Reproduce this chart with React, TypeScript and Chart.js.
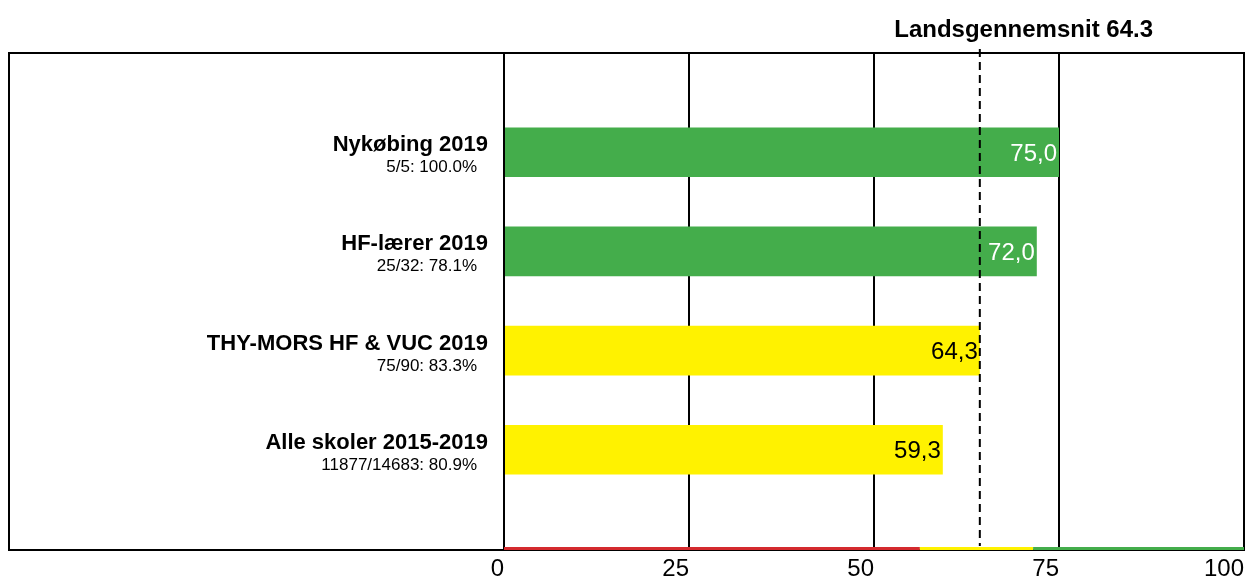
import React, { useEffect, useRef } from "react";
import { Chart, registerables } from "chart.js";

Chart.register(...registerables);

const categories = ["Nykøbing 2019", "HF-lærer 2019", "THY-MORS HF & VUC 2019", "Alle skoler 2015-2019"];
const subLabels = ["5/5: 100.0%", "25/32: 78.1%", "75/90: 83.3%", "11877/14683: 80.9%"];
const values = [75.0, 72.0, 64.3, 59.3];
const xTicks = [0, 25, 50, 75, 100];
const average = 64.3;
const averageLabel = "Landsgennemsnit 64.3";
// colour bands
const bandStarts = [0, 56.2, 71.5];
const bandEnds = [56.2, 71.5, 100];
const bandColors = ["#d42a2e", "#fff200", "#44ad4b"];
const textColors = ["#000000", "#000000", "#ffffff"];

const FONT = "'Liberation Sans', Arial, Helvetica, sans-serif";

function bandIndex(v: number) {
  for (let i = bandStarts.length - 1; i >= 0; i--) if (v >= bandStarts[i]) return i;
  return 0;
}

const decorPlugin = {
  id: "decor",
  afterDatasetsDraw(chart: any) {
    const { ctx, chartArea } = chart;
    const xs = chart.scales.x;
    const ys = chart.scales.y;
    ctx.save();
    // outer box
    ctx.strokeStyle = "#000";
    ctx.lineWidth = 2;
    ctx.strokeRect(9, chartArea.top, chartArea.right - 9, chartArea.bottom - chartArea.top + 1);
    // colour band along bottom
    for (let i = 0; i < bandStarts.length; i++) {
      const x0 = xs.getPixelForValue(bandStarts[i]);
      const x1 = xs.getPixelForValue(bandEnds[i]);
      ctx.fillStyle = bandColors[i];
      ctx.fillRect(x0, chartArea.bottom - 2, x1 - x0, 3);
    }
    // average dashed line
    const ax = xs.getPixelForValue(average);
    ctx.strokeStyle = "#000";
    ctx.setLineDash([8, 5]);
    ctx.lineWidth = 2;
    ctx.beginPath();
    ctx.moveTo(ax, chartArea.top - 4);
    ctx.lineTo(ax, chartArea.bottom - 3);
    ctx.stroke();
    ctx.setLineDash([]);
    // title
    ctx.fillStyle = "#000";
    ctx.font = `bold 24px ${FONT}`;
    ctx.textAlign = "right";
    ctx.textBaseline = "alphabetic";
    ctx.fillText(averageLabel, chartArea.right - 91, 37);
    // category labels & values
    for (let i = 0; i < categories.length; i++) {
      const y = ys.getPixelForValue(i);
      ctx.fillStyle = "#000";
      ctx.textAlign = "right";
      ctx.font = `bold 22px ${FONT}`;
      ctx.fillText(categories[i], chartArea.left - 16, y - 1);
      ctx.font = `17px ${FONT}`;
      ctx.fillText(subLabels[i], chartArea.left - 27, y + 20);
      const vx = xs.getPixelForValue(values[i]);
      ctx.font = `24px ${FONT}`;
      ctx.fillStyle = textColors[bandIndex(values[i])];
      ctx.fillText(values[i].toFixed(1).replace(".", ","), vx - 2, y + 8.5);
    }
    ctx.restore();
  },
};

export default function App() {
  const ref = useRef<HTMLCanvasElement | null>(null);
  useEffect(() => {
    if (!ref.current) return;
    const chart = new Chart(ref.current, {
      type: "bar",
      data: {
        datasets: [
          {
            data: values.map((v, i) => ({ x: v, y: i })),
            backgroundColor: values.map((v) => bandColors[bandIndex(v)]),
            borderWidth: 0,
            barPercentage: 0.5,
            categoryPercentage: 1,
          },
        ],
      },
      options: {
        indexAxis: "y",
        responsive: false,
        animation: false,
        layout: { padding: { left: 504, top: 53, right: 12, bottom: 0 } },
        plugins: { legend: { display: false }, tooltip: { enabled: false }, title: { display: false } },
        scales: {
          x: {
            type: "linear",
            min: 0,
            max: 100,
            afterBuildTicks: (s: any) => {
              s.ticks = xTicks.map((v) => ({ value: v }));
            },
            afterFit: (s: any) => {
              s.height = 30;
            },
            grid: { display: true, color: "#000", lineWidth: 2, drawTicks: false },
            border: { display: false },
            ticks: {
              align: "end",
              padding: 6,
              color: "#000",
              font: { family: FONT, size: 24 },
            },
          },
          y: {
            type: "linear",
            min: -1,
            max: 4,
            reverse: true,
            offset: false,
            display: false,
            ticks: { stepSize: 1 },
            grid: { display: false, offset: false },
          },
        },
      },
      plugins: [decorPlugin],
    } as any);
    return () => chart.destroy();
  }, []);
  return (
    <div style={{ position: "fixed", left: 0, top: 0, width: 1256, height: 579, background: "#fff" }}>
      <canvas ref={ref} width={1256} height={579} style={{ display: "block" }} />
    </div>
  );
}
